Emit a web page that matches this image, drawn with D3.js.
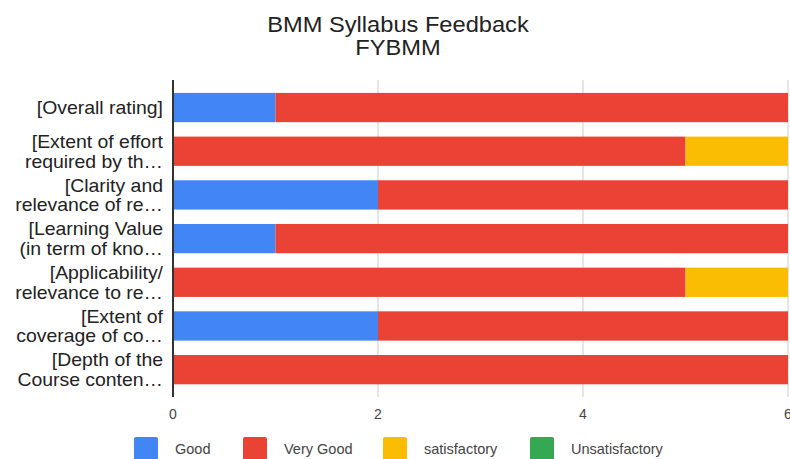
<!DOCTYPE html>
<html>
<head>
<meta charset="utf-8">
<script src="https://cdn.jsdelivr.net/npm/d3@7"></script>
<style>
  body { margin: 0; background: #fff; overflow: hidden; }
  text { font-family: "Liberation Sans", Arial, sans-serif; }
</style>
</head>
<body>
<div id="chart"></div>
<script>
// categories, top to bottom (each label split into its two displayed lines)
var categories = [
  ["[Overall rating]"],
  ["[Extent of effort", "required by th\u2026"],
  ["[Clarity and", "relevance of re\u2026"],
  ["[Learning Value", "(in term of kno\u2026"],
  ["[Applicability/", "relevance to re\u2026"],
  ["[Extent of", "coverage of co\u2026"],
  ["[Depth of the", "Course conten\u2026"]
];
var seriesNames = ["Good", "Very Good", "satisfactory", "Unsatisfactory"];
var seriesColors = ["#4285f4", "#ea4335", "#fbbc04", "#34a853"];
var good = [1, 0, 2, 1, 0, 2, 0];
var veryGood = [5, 5, 4, 5, 5, 4, 6];
var satisfactory = [0, 1, 0, 0, 1, 0, 0];
var unsatisfactory = [0, 0, 0, 0, 0, 0, 0];
var xTicks = [0, 2, 4, 6];

var width = 790, height = 459;
var plotLeft = 173, plotRight = 788, plotTop = 80, plotBottom = 397;

var svg = d3.select("#chart").append("svg")
    .attr("width", width)
    .attr("height", height);

// title (text in the original is a bit wide, so stretch horizontally)
var titleLines = ["BMM Syllabus Feedback", "FYBMM"];
svg.append("g").selectAll("text")
    .data(titleLines)
    .enter().append("text")
    .attr("transform", function(d, i) { return "translate(398," + (32 + i * 23) + ") scale(1.1,1)"; })
    .attr("text-anchor", "middle")
    .attr("font-size", "21.5px").attr("fill", "#222")
    .text(function(d) { return d; });

var x = d3.scaleLinear().domain([0, 6]).range([plotLeft, plotRight]);
var y = d3.scaleBand().domain(d3.range(categories.length))
    .range([85.7, 391.5]).paddingInner(0.33).paddingOuter(0.165);

// gridlines
svg.append("g").selectAll("line")
    .data(xTicks.filter(function(d) { return d > 0; }))
    .enter().append("line")
    .attr("x1", function(d) { return x(d); })
    .attr("x2", function(d) { return x(d); })
    .attr("y1", plotTop).attr("y2", plotBottom)
    .attr("stroke", "#cccccc").attr("stroke-width", 1);

// stacked bars
var rows = categories.map(function(c, i) {
  return { i: i, Good: good[i], "Very Good": veryGood[i],
           satisfactory: satisfactory[i], Unsatisfactory: unsatisfactory[i] };
});
var stack = d3.stack().keys(seriesNames)(rows);

svg.append("g").selectAll("g")
    .data(stack)
    .enter().append("g")
    .attr("fill", function(d, k) { return seriesColors[k]; })
    .selectAll("rect")
    .data(function(d) { return d; })
    .enter().append("rect")
    .attr("x", function(d) { return x(d[0]); })
    .attr("width", function(d) { return x(d[1]) - x(d[0]); })
    .attr("y", function(d) { return y(d.data.i); })
    .attr("height", y.bandwidth());

// zero axis line
svg.append("line")
    .attr("x1", x(0)).attr("x2", x(0))
    .attr("y1", plotTop).attr("y2", plotBottom)
    .attr("stroke", "#333333").attr("stroke-width", 2);

// x tick labels
svg.append("g").selectAll("text")
    .data(xTicks)
    .enter().append("text")
    .attr("x", function(d) { return x(d); })
    .attr("y", 419)
    .attr("text-anchor", "middle")
    .attr("font-size", "14px").attr("fill", "#444")
    .text(function(d) { return d; });

// category labels
var lab = svg.append("g").selectAll("text")
    .data(categories)
    .enter().append("text")
    .attr("text-anchor", "end")
    .attr("font-size", "17.5px").attr("fill", "#222")
    .attr("transform", function(d, i) {
      var cy = y(i) + y.bandwidth() / 2;
      var y0 = cy + 6.5 - (d.length - 1) * 9.7;
      return "translate(163," + y0 + ") scale(1.11,1)";
    });
lab.selectAll("tspan")
    .data(function(d) { return d; })
    .enter().append("tspan")
    .attr("x", 0)
    .attr("dy", function(d, j) { return j === 0 ? 0 : 19.5; })
    .text(function(d) { return d; });

// legend
var legendX = [134, 243, 383, 530];
var legend = svg.append("g").selectAll("g")
    .data(seriesNames)
    .enter().append("g")
    .attr("transform", function(d, k) { return "translate(" + legendX[k] + ",437)"; });
legend.append("rect")
    .attr("width", 24).attr("height", 24).attr("rx", 2)
    .attr("fill", function(d, k) { return seriesColors[k]; });
legend.append("text")
    .attr("x", 41)
    .attr("y", 17)
    .attr("font-size", "14.5px").attr("fill", "#444")
    .text(function(d) { return d; });
</script>
</body>
</html>
